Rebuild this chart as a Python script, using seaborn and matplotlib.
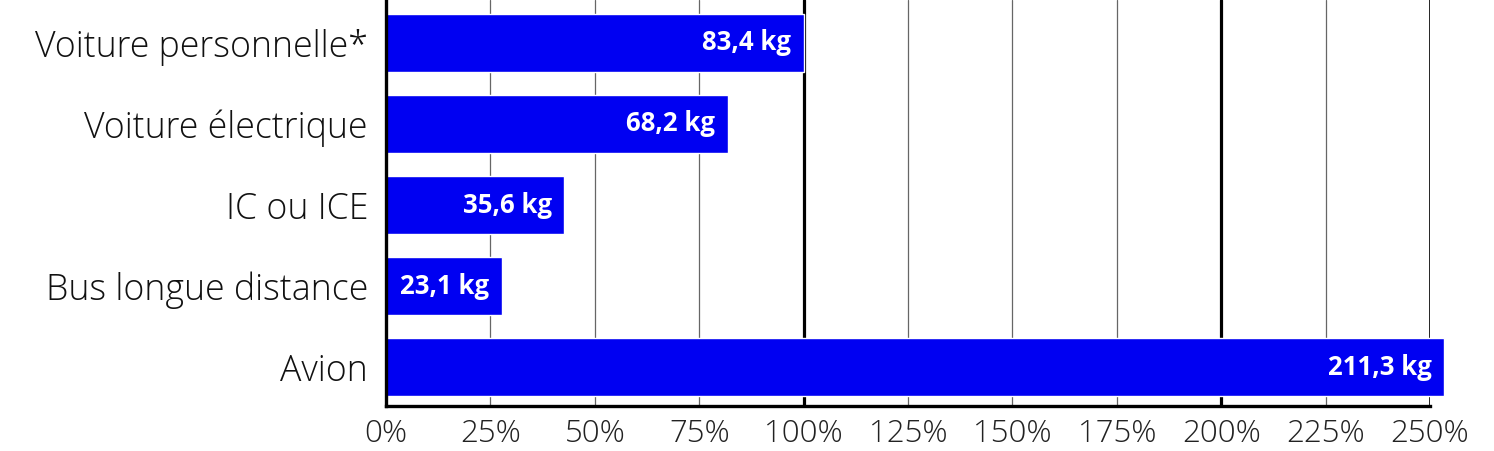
import matplotlib
matplotlib.use("Agg")
import matplotlib.pyplot as plt
import seaborn as sns
import pandas as pd

# modes de transport et valeurs
categories = ["Voiture personnelle*", "Voiture électrique", "IC ou ICE",
              "Bus longue distance", "Avion"]
kg_labels = ["83,4 kg", "68,2 kg", "35,6 kg", "23,1 kg", "211,3 kg"]
percent = [100, 81.8, 42.7, 27.7, 253.4]
ticks = [0, 25, 50, 75, 100, 125, 150, 175, 200, 225, 250]

df = pd.DataFrame({"mode": categories, "pct": percent})

sns.set_style("white")
plt.rcParams["font.family"] = ["Open Sans", "DejaVu Sans"]

fig = plt.figure(figsize=(14.94, 4.51), dpi=100)
ax = fig.add_axes([0.2584, 0.0998, 0.6988, 0.9002])

sns.barplot(data=df, x="pct", y="mode", orient="h", color="#0000f2",
            saturation=1, width=0.72, ax=ax, zorder=3)
for p in ax.patches:
    p.set_clip_on(False)

ax.set_xlim(0, 250)
ax.set_ylim(4.48, -0.53)
ax.set_xticks(ticks)
ax.set_xticklabels([f"{t}%" for t in ticks], fontsize=22.5, color="#222222",
                   fontweight="light")
ax.tick_params(axis="y", labelsize=25.7, length=0, pad=13, colors="#111111")
ax.tick_params(axis="x", length=0, pad=9)
for lab in ax.get_yticklabels():
    lab.set_fontweight("light")
ax.set_xlabel("")
ax.set_ylabel("")

# lignes verticales
for t in ticks:
    if t in (100, 200):
        ax.axvline(t, color="black", lw=2.3, zorder=1)
    elif t == 250:
        ax.axvline(t, color="black", lw=1.2, zorder=1)
    elif t > 0:
        ax.axvline(t, color="#666666", lw=0.9, zorder=1)

for s in ["top", "right"]:
    ax.spines[s].set_visible(False)
ax.spines["left"].set_linewidth(2.4)
ax.spines["bottom"].set_linewidth(2.4)
ax.spines["left"].set_color("black")
ax.spines["bottom"].set_color("black")
ax.spines["left"].set_zorder(4)

for i, (v, lab) in enumerate(zip(percent, kg_labels)):
    ax.text(v - 3, i, lab, ha="right", va="center", color="white",
            fontsize=18.5, fontweight="bold", zorder=5)

plt.savefig("out.png", dpi=100)
